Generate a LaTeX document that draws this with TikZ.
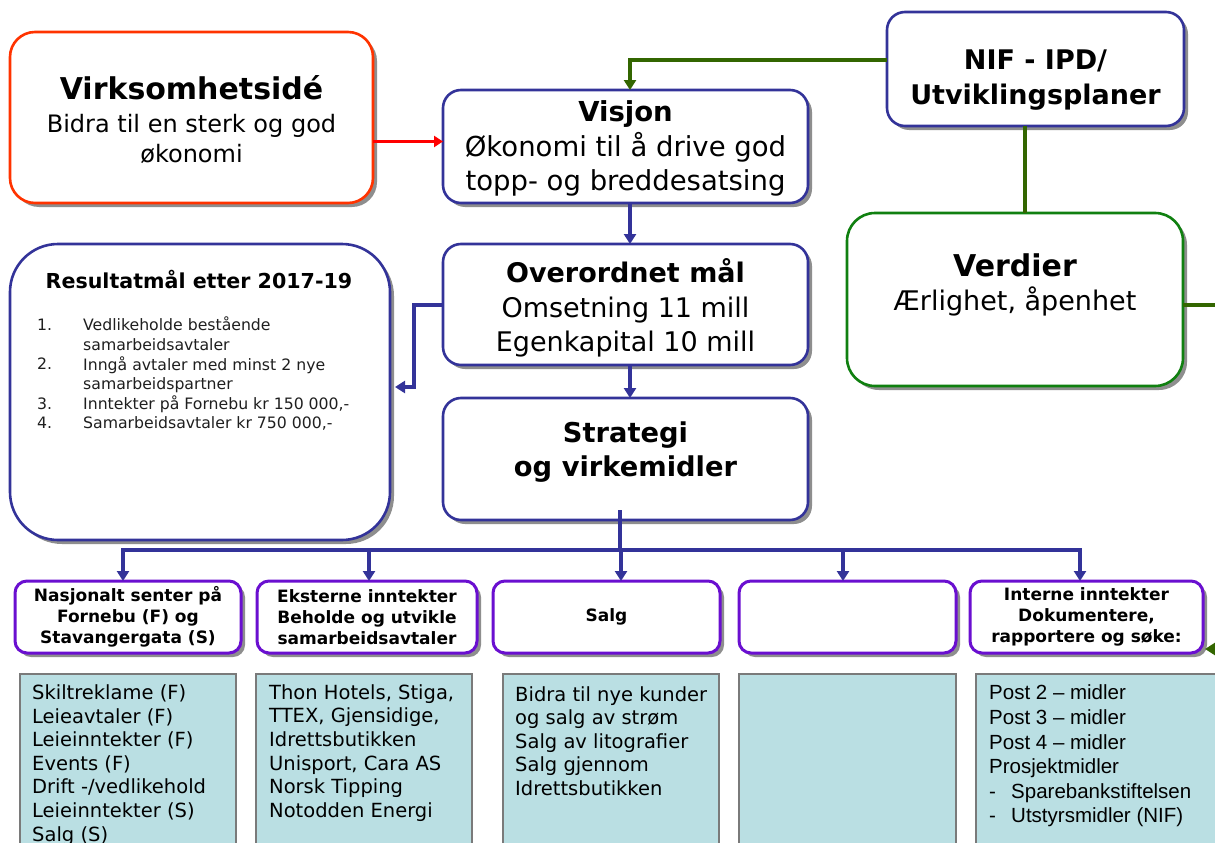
\documentclass[tikz,border=0pt]{standalone}
\usepackage{fontspec}
\setmainfont{DejaVu Sans}
\newfontfamily\arialf{Liberation Sans}
\usetikzlibrary{arrows.meta,shadows,calc}
\definecolor{navy}{HTML}{333399}
\definecolor{purp}{HTML}{6A0FD0}
\definecolor{gbox}{HTML}{108010}
\definecolor{gline}{HTML}{336600}
\definecolor{rbox}{HTML}{FF3300}
\definecolor{rarrow}{HTML}{FF0000}
\definecolor{lblue}{HTML}{BADFE3}
\definecolor{shgray}{HTML}{8E8E8E}
\definecolor{cborder}{HTML}{7A7A7A}
\newcommand\boxnode[7]{\node[#1,minimum width={(#5-#3)*1pt},minimum height={(#6-#4)*1pt}] (#2) at ({(#3+#5)/2},{(#4+#6)/2}) {#7};}
\begin{document}
\begin{tikzpicture}[x=1pt,y=-1pt,
  sh/.style={drop shadow={shadow xshift=4pt,shadow yshift=-4pt,fill=shgray,opacity=1}},
  basebox/.style={inner sep=0pt,outer sep=0pt,fill=white,sh},
  redbox/.style={basebox,draw=rbox,line width=2.6pt,rounded corners=25pt},
  navybox/.style={basebox,draw=navy,line width=2.6pt,rounded corners=18pt},
  resbox/.style={basebox,draw=navy,line width=2.6pt,rounded corners=48pt},
  greenbox/.style={basebox,draw=gbox,line width=2.6pt,rounded corners=28pt},
  headbox/.style={basebox,draw=purp,line width=3pt,rounded corners=12pt,align=center,font=\fontsize{17}{21}\selectfont\bfseries},
  contbox/.style={inner sep=0pt,outer sep=0pt,fill=lblue,draw=cborder,line width=1.2pt},
  txt/.style={inner sep=0pt,align=center},
  ltxt/.style={inner sep=0pt,align=left,anchor=west},
  navyline/.style={draw=navy,line width=4pt},
  navyarr/.style={navyline,-{Triangle[width=12pt,length=10pt]}},
  greenline/.style={draw=gline,line width=4pt},
  greenarr/.style={greenline,-{Triangle[width=12pt,length=10pt]}},
  redarr/.style={draw=rarrow,line width=3pt,-{Triangle[width=11pt,length=9pt]}}
]
\useasboundingbox (0,0) rectangle (1215,843);
\fill[white] (0,0) rectangle (1215,843);

% main boxes
\boxnode{redbox}{virk}{10}{32}{373}{203}{}
\boxnode{navybox}{visjon}{443}{90}{808}{203}{}
\boxnode{navybox}{nif}{887}{12}{1184}{126}{}
\boxnode{greenbox}{verdier}{847}{213}{1183}{386}{}
\boxnode{navybox}{over}{443}{244}{808}{365}{}
\boxnode{resbox}{res}{10}{244}{390}{540}{}
\boxnode{navybox}{strat}{443}{398}{808}{520}{}

% header boxes
\boxnode{headbox}{hA}{15}{581}{241}{653}{Nasjonalt senter på\\Fornebu (F) og\\Stavangergata (S)}
\boxnode{headbox}{hB}{257}{581}{477}{653}{Eksterne inntekter\\Beholde og utvikle\\samarbeidsavtaler}
\boxnode{headbox}{hC}{493}{581}{720}{653}{Salg}
\boxnode{headbox}{hD}{739}{581}{956}{653}{}
\boxnode{headbox}{hE}{970}{581}{1203}{653}{Interne inntekter\\Dokumentere,\\rapportere og søke:}

% content boxes
\boxnode{contbox}{cA}{20}{674}{236}{870}{}
\boxnode{contbox}{cB}{256}{674}{472}{870}{}
\boxnode{contbox}{cC}{503}{674}{719}{870}{}
\boxnode{contbox}{cD}{739}{674}{956}{870}{}
\boxnode{contbox}{cE}{976}{674}{1240}{870}{}

% texts of main boxes
\node[txt,font=\fontsize{24}{30}\selectfont] (virkT) at (191.5,119.5)
  {{\fontsize{30}{36}\selectfont\bfseries Virksomhetsidé}\\[3pt]Bidra til en sterk og god\\økonomi};
\node[txt,font=\fontsize{27.5}{34.5}\selectfont] (visjonT) at (625.5,148.5)
  {{\bfseries Visjon}\\Økonomi til å drive god\\topp- og breddesatsing};
\node[txt,font=\fontsize{27}{35}\selectfont\bfseries] (nifT) at (1035.5,80)
  {NIF - IPD/\\Utviklingsplaner};
\node[txt,font=\fontsize{27}{34}\selectfont] (verdierT) at (1015,285)
  {{\fontsize{30}{36}\selectfont\bfseries Verdier}\\Ærlighet, åpenhet};
\node[txt,font=\fontsize{27}{34.5}\selectfont] (overT) at (625.5,308)
  {{\bfseries Overordnet mål}\\Omsetning 11 mill\\Egenkapital 10 mill};
\node[txt,font=\fontsize{27.3}{34}\selectfont\bfseries] (stratT) at (625.5,452)
  {Strategi\\og virkemidler};
\node[txt,font=\fontsize{20.6}{24}\selectfont\bfseries] (resT) at (199,279)
  {Resultatmål etter 2017-19};
\node[ltxt,font=\fontsize{15.7}{19.6}\selectfont,text=black!88] (resN) at (37,374)
  {1.\\\mbox{}\\2.\\\mbox{}\\3.\\4.};
\node[ltxt,font=\fontsize{15.7}{19.6}\selectfont,text=black!88] (resL) at (83,374)
  {Vedlikeholde bestående\\samarbeidsavtaler\\Inngå avtaler med minst 2 nye\\samarbeidspartner\\Inntekter på Fornebu kr 150 000,-\\Samarbeidsavtaler kr 750 000,-};

% texts of content boxes
\node[ltxt,font=\fontsize{19.5}{23.6}\selectfont] (cAT) at (32,765)
  {Skiltreklame (F)\\Leieavtaler (F)\\Leieinntekter (F)\\Events (F)\\Drift -/vedlikehold\\Leieinntekter (S)\\Salg (S)};
\node[ltxt,font=\fontsize{19.5}{23.6}\selectfont] (cBT) at (269,753)
  {Thon Hotels, Stiga,\\TTEX, Gjensidige,\\Idrettsbutikken\\Unisport, Cara AS\\Norsk Tipping\\Notodden Energi};
\node[ltxt,font=\fontsize{19.5}{23.6}\selectfont] (cCT) at (515,741)
  {Bidra til nye kunder\\og salg av strøm\\Salg av litografier\\Salg gjennom\\Idrettsbutikken};
\node[ltxt,font=\arialf\fontsize{20.5}{24.6}\selectfont] (cET) at (989,756)
  {Post 2 – midler\\Post 3 – midler\\Post 4 – midler\\Prosjektmidler\\-\hspace{15.2pt}Sparebankstiftelsen\\-\hspace{15.2pt}Utstyrsmidler (NIF)};

% connectors
\draw[redarr] ([yshift=-24pt]virk.east) -- ([yshift=-24pt]virk.east -| visjon.west);
\draw[greenarr] ([yshift=9pt]nif.west) -| ([xshift=4.5pt]visjon.north);
\draw[greenline] ([xshift=-10.5pt]nif.south) -- ([xshift=-10.5pt]nif.south |- verdier.north);
\draw[greenarr] ([yshift=-5.5pt]verdier.east) -- ++(40pt,0) |- ([xshift=2pt,yshift=-32pt]hE.east);
\draw[navyarr] ([xshift=4.5pt]visjon.south) -- ([xshift=4.5pt]over.north);
\draw[navyarr] ([xshift=4.5pt]over.south) -- ([xshift=4.5pt]strat.north);
\draw[navyarr] (over.west) -- ++(-29pt,0) |- ([xshift=5pt,yshift=5pt]res.east);
\coordinate (busL) at (123,550);
\coordinate (busR) at (1080,550);
\draw[navyline] ([xshift=-5.5pt,yshift=10pt]strat.south) -- ([xshift=-5.5pt]strat.south |- busL);
\draw[navyline,line cap=rect] (busL) -- (busR);
\draw[navyarr] (busL) -- (busL |- hA.north);
\draw[navyarr] ([xshift=2pt]hB.north |- busL) -- ([xshift=2pt]hB.north);
\draw[navyarr] ([xshift=14.5pt]hC.north |- busL) -- ([xshift=14.5pt]hC.north);
\draw[navyarr] ([xshift=-4.5pt]hD.north |- busL) -- ([xshift=-4.5pt]hD.north);
\draw[navyarr] (busR) -- (busR |- hE.north);
\end{tikzpicture}
\end{document}
